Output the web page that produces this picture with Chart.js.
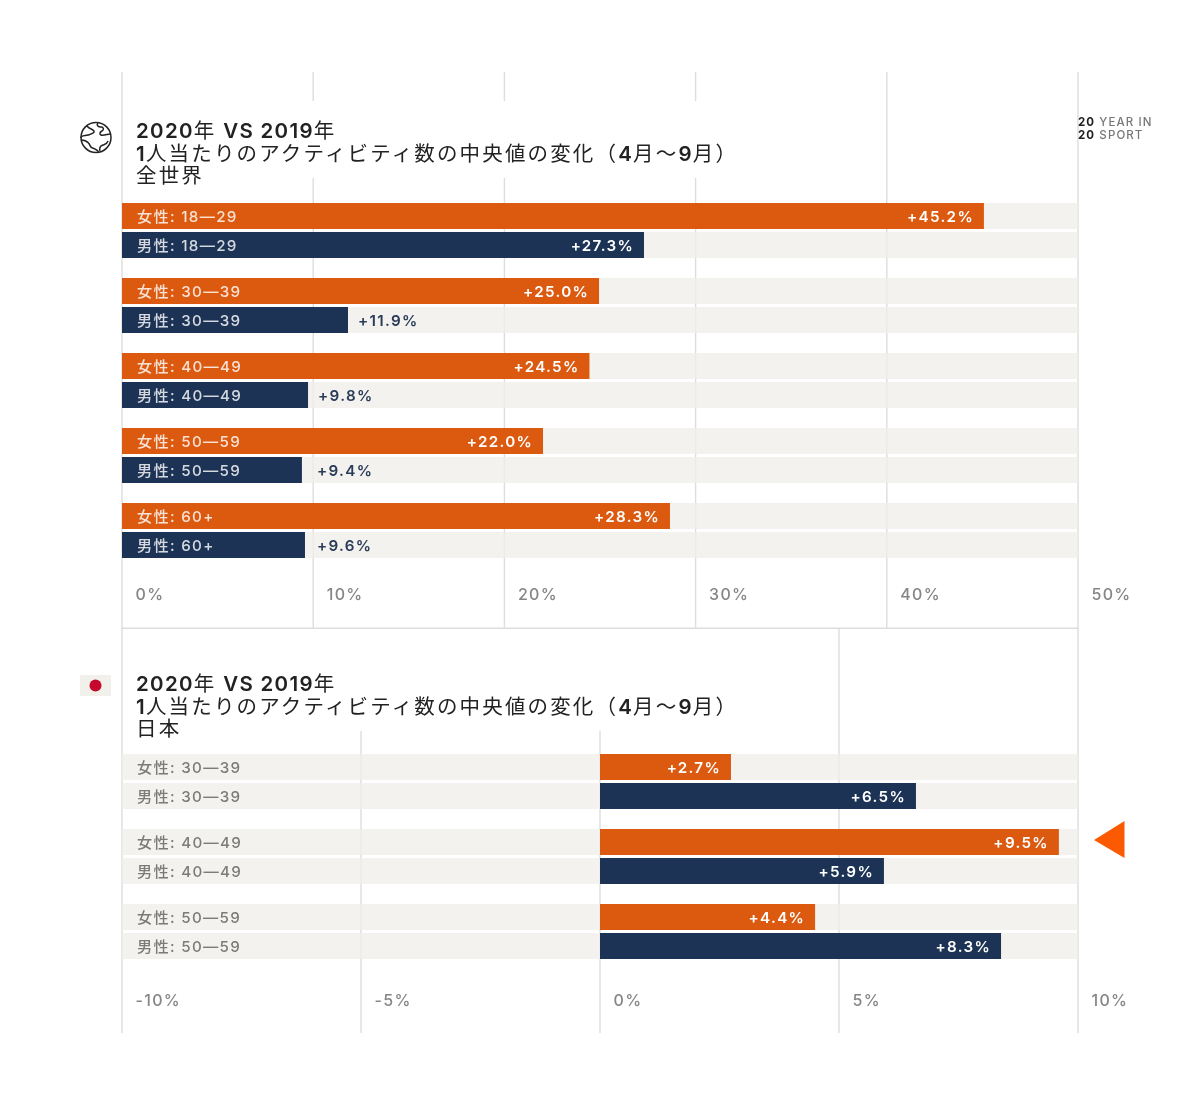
<!DOCTYPE html>
<html lang="ja">
<head>
<meta charset="utf-8">
<title>2020年 VS 2019年</title>
<script src="https://cdn.jsdelivr.net/npm/chart.js@4"></script>
<style>
html,body{margin:0;padding:0;background:#fff;}
#page{position:relative;width:1200px;height:1107px;overflow:hidden;background:#fff;font-family:"Noto Sans CJK JP",sans-serif;}
canvas{position:absolute;left:0;}
.title{position:absolute;left:123px;width:607px;background:#fff;box-sizing:border-box;padding-left:13px;color:#222;font-size:20.5px;letter-spacing:2.15px;white-space:nowrap;}
.title div{height:22.6px;line-height:22.6px;}
.title b{font-family:Inter,sans-serif;font-weight:600;letter-spacing:1.3px;}
.brand{position:absolute;left:1078px;top:116px;font-family:Inter,sans-serif;font-size:11.5px;line-height:12.5px;letter-spacing:1.1px;color:#777;font-weight:500;white-space:nowrap;}
.brand b{color:#222;font-weight:700;}
svg{position:absolute;}
</style>
</head>
<body>
<div id="page">
<canvas id="world" width="1200" height="557" style="top:72px"></canvas>
<canvas id="japan" width="1200" height="405" style="top:628px"></canvas>

<div class="title" style="top:101px;height:77px;padding-top:17px;"><div><b>2020</b>年 <b>VS 2019</b>年</div><div><b>1</b>人当たりのアクティビティ数の中央値の変化（<b>4</b>月〜<b>9</b>月）</div><div>全世界</div></div>
<div class="title" style="top:629px;height:102px;padding-top:42px;"><div><b>2020</b>年 <b>VS 2019</b>年</div><div><b>1</b>人当たりのアクティビティ数の中央値の変化（<b>4</b>月〜<b>9</b>月）</div><div>日本</div></div>

<div class="brand"><b>20</b> YEAR IN<br><b>20</b> SPORT</div>

<svg style="left:78px;top:120px" width="36" height="36" viewBox="0 0 36 36" fill="none" stroke="#222" stroke-width="1.5">
<circle cx="18" cy="17.5" r="15"/>
<path d="M9 6c2 3 6 3 7 5s-3 3-6 4-7 0-7 3M20 3c-2 2 0 4 3 4s3 3 1 4-3 3-1 4 7-1 9-1M3.5 20c3 0 5 1 7 3s1 4 4 5 5 2 6 4M22 31c-1-3 0-5 3-6s4-1 5-4"/>
</svg>
<svg style="left:80px;top:675px" width="31" height="21" viewBox="0 0 31 21">
<rect width="31" height="21" fill="#f1f0eb"/>
<circle cx="15.5" cy="10.5" r="6" fill="#c5092d"/>
</svg>
<svg style="left:1090px;top:818px" width="38" height="44" viewBox="0 0 38 44">
<polygon points="4,22 34.500,3 34.500,40" fill="#fb5a00"/>
</svg>
</div>

<script>
// World panel
const worldCategories = ['18—29', '30—39', '40—49', '50—59', '60+'];
// Bar lengths; the printed labels are kept separately
const worldFemale = [45.08, 24.95, 24.45, 22.02, 28.66];
const worldMale = [27.3, 11.82, 9.73, 9.41, 9.57];
const worldFemaleLabels = ['+45.2%', '+25.0%', '+24.5%', '+22.0%', '+28.3%'];
const worldMaleLabels = ['+27.3%', '+11.9%', '+9.8%', '+9.4%', '+9.6%'];

// Japan panel
const japanCategories = ['30—39', '40—49', '50—59'];
const japanFemale = [2.74, 9.6, 4.5];
const japanMale = [6.61, 5.94, 8.39];
const japanFemaleLabels = ['+2.7%', '+9.5%', '+4.4%'];
const japanMaleLabels = ['+6.5%', '+5.9%', '+8.3%'];

const femaleName = '女性';
const maleName = '男性';

const ORANGE = '#dc5a10';
const NAVY = '#1c3355';
const BAND = 'rgba(240,239,234,0.8)';
const RULE = '#dddddd';
const FONT = 'Inter, "Noto Sans CJK JP", sans-serif';

const panelPlugin = {
  id: 'panel',
  beforeDraw(chart) {
    chart.ctx.letterSpacing = '1.3px';
  },
  beforeDatasetsDraw(chart, args, o) {
    const {ctx, scales: {x}} = chart;
    ctx.save();
    ctx.strokeStyle = RULE;
    ctx.lineWidth = 1.4;
    x.ticks.forEach((t) => {
      const px = x.getPixelForValue(t.value);
      ctx.beginPath();
      ctx.moveTo(px, 0);
      ctx.lineTo(px, chart.height);
      ctx.stroke();
    });
    if (o.bottomRule) {
      ctx.beginPath();
      ctx.moveTo(x.left, chart.height - 0.7);
      ctx.lineTo(x.right, chart.height - 0.7);
      ctx.stroke();
    }
    ctx.restore();
  },
  afterDatasetsDraw(chart, args, o) {
    const {ctx} = chart;
    const x = chart.scales.x;
    ctx.save();
    ctx.letterSpacing = '1.3px';
    ctx.textBaseline = 'middle';
    [[2, femaleName, o.femaleLabels], [3, maleName, o.maleLabels]].forEach(([idx, name, labels]) => {
      chart.getDatasetMeta(idx).data.forEach((bar, i) => {
        const left = x.left + 15;
        const onBar = bar.base <= left;
        ctx.font = '500 15.2px ' + FONT;
        ctx.textAlign = 'left';
        ctx.fillStyle = onBar ? 'rgba(255,255,255,0.82)' : '#7b7b7b';
        ctx.fillText(name + ': ' + chart.data.labels[i], left, bar.y + 1);
        const outside = bar.x < 400;
        ctx.font = '600 15.2px ' + FONT;
        ctx.textAlign = outside ? 'left' : 'right';
        ctx.fillStyle = outside ? '#2a3c58' : '#ffffff';
        const vx = outside ? Math.max(bar.x + 10, x.left + 195) : bar.x - 10;
        ctx.fillText(labels[i], vx, bar.y + 1);
      });
    });
    ctx.restore();
  }
};

function buildPanel(id, cats, female, male, femaleLabels, maleLabels, xMin, xMax, step, padTop, axisHeight, tickPad, bottomRule) {
  const full = cats.map(() => [xMin, xMax]);
  return new Chart(document.getElementById(id), {
    type: 'bar',
    plugins: [panelPlugin],
    data: {
      labels: cats,
      datasets: [
        {label: '女性 band', data: full, stack: 'f', backgroundColor: BAND, order: 2},
        {label: '男性 band', data: full, stack: 'm', backgroundColor: BAND, order: 2},
        {label: femaleName, data: female, stack: 'f', backgroundColor: ORANGE, order: 1},
        {label: maleName, data: male, stack: 'm', backgroundColor: NAVY, order: 1}
      ]
    },
    options: {
      indexAxis: 'y',
      responsive: false,
      animation: false,
      categoryPercentage: 58 / 75,
      barPercentage: 26 / 29,
      layout: {padding: {left: 122, right: 122, top: padTop, bottom: 0}},
      plugins: {
        legend: {display: false},
        tooltip: {enabled: false},
        title: {display: false},
        panel: {femaleLabels, maleLabels, bottomRule}
      },
      scales: {
        y: {display: false},
        x: {
          stacked: false,
          min: xMin,
          max: xMax,
          afterFit(s) { s.height = axisHeight; },
          border: {display: false},
          grid: {display: false, drawTicks: false},
          ticks: {
            stepSize: step,
            autoSkip: false,
            maxRotation: 0,
            align: 'start',
            labelOffset: 13.5,
            padding: tickPad,
            color: '#868686',
            font: {family: FONT, size: 16, weight: '500'},
            callback: (v) => v + '%'
          }
        }
      }
    }
  });
}

buildPanel('world', worldCategories, worldFemale, worldMale, worldFemaleLabels, worldMaleLabels,
  0, 50, 10, 121, 61, 18, true);
buildPanel('japan', japanCategories, japanFemale, japanMale, japanFemaleLabels, japanMaleLabels,
  -10, 10, 5, 116, 64, 23, false);
</script>
</body>
</html>
